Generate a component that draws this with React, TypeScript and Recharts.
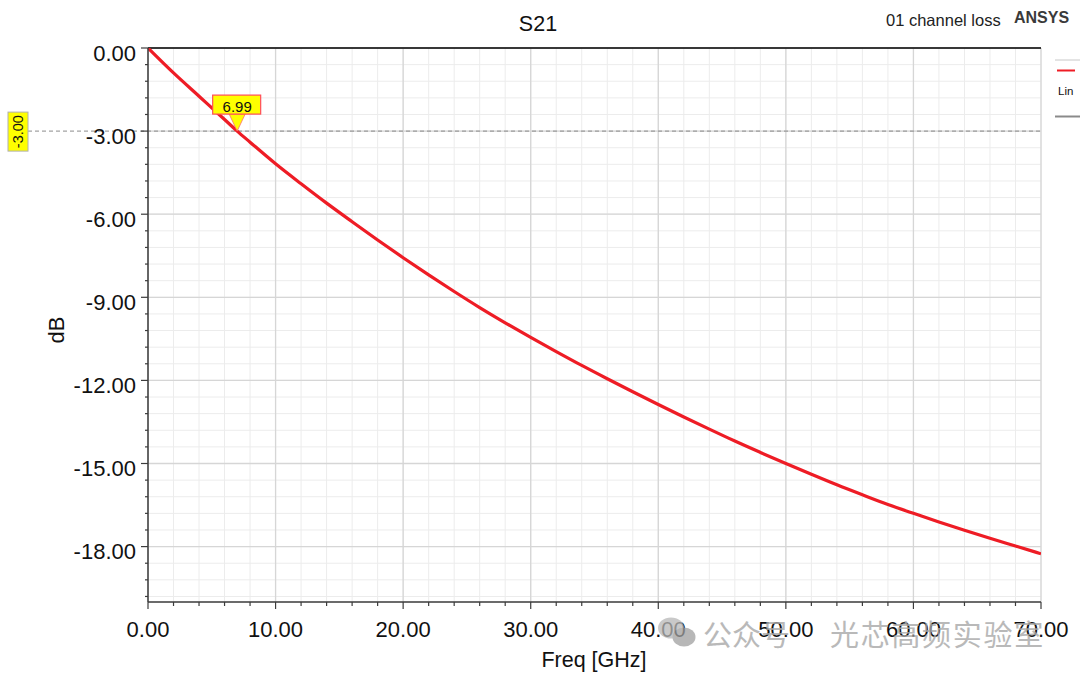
import { LineChart, Line, XAxis, YAxis, CartesianGrid, ReferenceLine, ReferenceDot } from "recharts";

// S21 channel loss
const freqGHz = [
  0, 2, 4, 6, 6.99, 8, 10, 12, 14, 16, 18, 20, 22, 24, 26, 28, 30, 32, 34, 36,
  38, 40, 42, 44, 46, 48, 50, 52, 54, 56, 58, 60, 62, 64, 66, 68, 70,
];
const s21dB = [
  0, -0.9, -1.74, -2.58, -3.0, -3.4, -4.18, -4.9, -5.6, -6.27, -6.93, -7.57, -8.19, -8.79, -9.37, -9.92,
  -10.45, -10.96, -11.46, -11.94, -12.41, -12.87, -13.32, -13.76, -14.19, -14.6, -15.0, -15.39, -15.77,
  -16.13, -16.48, -16.8, -17.11, -17.41, -17.7, -17.98, -18.26,
];

const xDomain = [0, 70];
const yDomain = [-20, 0];
const majorX = [0, 10, 20, 30, 40, 50, 60, 70];
const minorX = Array.from({ length: 36 }, (_, i) => i * 2);
const majorY = [0, -3, -6, -9, -12, -15, -18];
const minorY = Array.from({ length: 34 }, (_, i) => -Math.round(i * 6) / 10);

const markerFreq = 6.99;
const markerDb = -3;

const data = freqGHz.map((f, i) => ({ f, db: s21dB[i] }));

const FONT = '"Liberation Sans", Arial, sans-serif';
const AXIS = "#3c3c3c";

const isMajor = (list: number[], v: number) => list.some((m) => Math.abs(m - v) < 1e-6);

// linear mapping of a value into the plot box (recharts 3 doesn't hand the scale to the grid generators)
const toY = (offset: any, v: number) => offset.top + ((yDomain[1] - v) / (yDomain[1] - yDomain[0])) * offset.height;
const toX = (offset: any, v: number) => offset.left + ((v - xDomain[0]) / (xDomain[1] - xDomain[0])) * offset.width;

function XTick(props: any) {
  const { x, y, payload } = props;
  const major = isMajor(majorX, payload.value);
  return (
    <g>
      <line x1={x} x2={x} y1={y} y2={y + (major ? 7 : 4)} stroke={AXIS} strokeWidth={1.2} />
      {major && (
        <text x={x} y={y + 34.5} textAnchor="middle" fontSize={22} fontFamily={FONT} fill="#111">
          {payload.value.toFixed(2)}
        </text>
      )}
    </g>
  );
}

function YTick(props: any) {
  const { x, y, payload } = props;
  const major = isMajor(majorY, payload.value);
  return (
    <g>
      <line x1={x - (major ? 7 : 3)} x2={x} y1={y} y2={y} stroke={AXIS} strokeWidth={1.2} />
      {major && (
        <text x={x - 12} y={y + 12.5} textAnchor="end" fontSize={22} fontFamily={FONT} fill="#111">
          {Math.abs(payload.value) < 1e-9 ? "0.00" : payload.value.toFixed(2)}
        </text>
      )}
    </g>
  );
}

function DashedLevel(p: any) {
  const y = p.y1;
  return (
    <g>
      <line x1={28} x2={p.x2} y1={y} y2={y} stroke="#8c8c8c" strokeWidth={1} strokeDasharray="4 3" />
      <rect x={8} y={y - 19} width={20} height={39} fill="#ffff00" stroke="#b0b0b0" strokeWidth={1} />
      <text
        x={18}
        y={y + 0.5}
        transform={`rotate(-90 18 ${y + 0.5})`}
        textAnchor="middle"
        dominantBaseline="central"
        fontSize={14.5}
        fontFamily={FONT}
        fill="#111"
      >
        {markerDb.toFixed(2)}
      </text>
    </g>
  );
}

function MarkerFlag(p: any) {
  const { cx, cy } = p;
  return (
    <g>
      <polygon
        points={`${cx - 8},${cy - 17} ${cx + 8},${cy - 17} ${cx},${cy}`}
        fill="#ffff00"
        stroke="#ff6a6a"
        strokeWidth={0.8}
      />
      <rect x={cx - 24.5} y={cy - 36} width={48} height={19} fill="#ffff00" stroke="#ff4d5a" strokeWidth={1.2} />
      <text x={cx} y={cy - 19.5} textAnchor="middle" fontSize={15} fontFamily={FONT} fill="#111">
        {markerFreq.toFixed(2)}
      </text>
    </g>
  );
}

export default function App() {
  return (
    <div style={{ position: "absolute", left: 0, top: 0, width: 1080, height: 677, background: "#fff", overflow: "hidden" }}>
      <LineChart width={1080} height={677} data={data} margin={{ top: 48, right: 39, bottom: 0, left: 0 }}>
        <CartesianGrid stroke="#ececec" strokeWidth={1} />
        <CartesianGrid
          stroke="#d6d6d6"
          strokeWidth={1.3}
          horizontalCoordinatesGenerator={({ offset }: any) => majorY.map((v) => toY(offset, v))}
          verticalCoordinatesGenerator={({ offset }: any) => majorX.map((v) => toX(offset, v))}
        />
        <XAxis
          dataKey="f"
          type="number"
          domain={xDomain}
          ticks={minorX}
          interval={0}
          height={75}
          tickSize={0}
          tickMargin={0}
          tickLine={false}
          tick={XTick}
          axisLine={{ stroke: AXIS, strokeWidth: 1.5 }}
          allowDataOverflow
        />
        <YAxis
          type="number"
          domain={yDomain}
          ticks={minorY}
          interval={0}
          width={148}
          tickSize={0}
          tickMargin={0}
          tickLine={false}
          tick={YTick}
          axisLine={{ stroke: AXIS, strokeWidth: 1.5 }}
          allowDataOverflow
        />
        <ReferenceLine y={0} stroke="#000" strokeWidth={1.5} />
        <ReferenceLine y={markerDb} shape={DashedLevel} />
        <Line
          type="monotone"
          dataKey="db"
          stroke="#ee1c25"
          strokeWidth={3.2}
          dot={false}
          activeDot={false}
          isAnimationActive={false}
        />
        <ReferenceDot x={markerFreq} y={markerDb} shape={MarkerFlag} />
      </LineChart>

      <svg
        width={1080}
        height={677}
        style={{ position: "absolute", left: 0, top: 0, pointerEvents: "none" }}
        fontFamily={FONT}
      >
        <text x={538} y={31} textAnchor="middle" fontSize={21.5} fill="#111">S21</text>
        <text x={886} y={26} fontSize={16.5} fill="#222">01 channel loss</text>
        <text x={1014} y={23.3} fontSize={16} fontWeight="bold" fill="#3a3a3a">ANSYS</text>

        {/* legend box, cut off at the right edge */}
        <line x1={1055} x2={1080} y1={60} y2={60} stroke="#c8c8c8" strokeWidth={1} />
        <line x1={1057} x2={1075} y1={70.5} y2={70.5} stroke="#ee1c25" strokeWidth={2} />
        <text x={1058} y={94.5} fontSize={11.5} fill="#111">Lin</text>
        <line x1={1055} x2={1080} y1={116.5} y2={116.5} stroke="#8a8a8a" strokeWidth={2} />

        <text
          x={56}
          y={330}
          transform="rotate(-90 56 330)"
          textAnchor="middle"
          dominantBaseline="central"
          fontSize={22}
          fill="#111"
        >
          dB
        </text>
        <text x={594} y={667} textAnchor="middle" fontSize={21.5} fill="#111">Freq [GHz]</text>

        {/* watermark */}
        <g opacity={0.75}>
          <ellipse cx={671} cy={628} rx={13} ry={10.5} fill="#b8b8b8" />
          <ellipse cx={684} cy={637} rx={11.5} ry={9.5} fill="#a0a0a0" />
        </g>
        <text
          x={703}
          y={633}
          dominantBaseline="central"
          fontSize={29}
          fontFamily='"Noto Sans CJK SC", sans-serif'
          fill="#a8a8a8"
          opacity={0.8}
        >
          公众号
        </text>
        <text
          x={830}
          y={633}
          dominantBaseline="central"
          fontSize={29}
          letterSpacing={1.7}
          fontFamily='"Noto Sans CJK SC", sans-serif'
          fill="#a8a8a8"
          opacity={0.8}
        >
          光芯高频实验室
        </text>
      </svg>
    </div>
  );
}
